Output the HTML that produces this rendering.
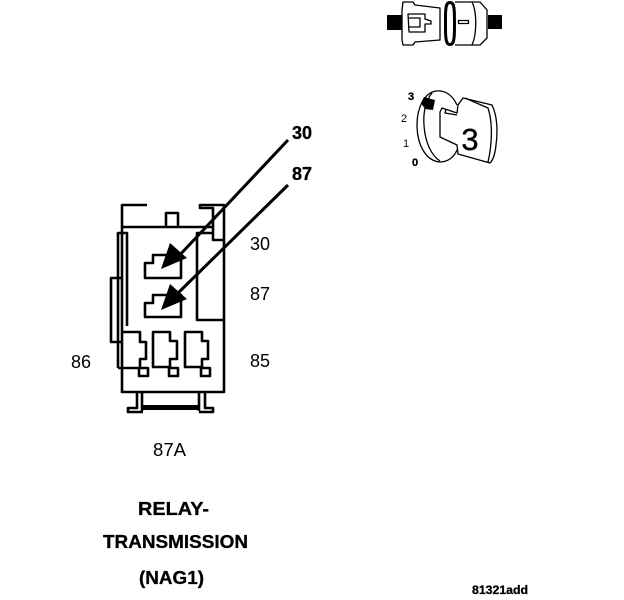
<!DOCTYPE html>
<html>
<head>
<meta charset="utf-8">
<style>
html,body{margin:0;padding:0;background:#fff;width:624px;height:600px;overflow:hidden}
svg{display:block}
text{font-family:"Liberation Sans",sans-serif;fill:#000}
.l{fill:none;stroke:#000;stroke-width:2.6;stroke-linejoin:round}
.t{fill:none;stroke:#000;stroke-width:1.3;stroke-linejoin:round}
.b{font-weight:bold;stroke:#000;stroke-width:.3}
</style>
</head>
<body>
<svg width="624" height="600" viewBox="0 0 624 600" xmlns="http://www.w3.org/2000/svg">
<rect width="624" height="600" fill="#fff"/>

<!-- Relay body -->
<path class="l" d="M147 205H122V392H224V205H200V208H213V240H223"/>
<path class="l" d="M122 227H212"/>
<path class="l" d="M166 227V213H178V227"/>
<path class="l" d="M118 368V233H127V326"/>
<path class="l" d="M121 278H111V342H122"/>
<path class="l" d="M212 233H197V320H223"/>

<!-- Slots -->
<path class="l" d="M145 278V263H153V255H181V278Z"/>
<path class="l" d="M145 317V303H153V295H181V317Z"/>

<!-- Lower terminals -->
<path class="l" d="M123 332H140V342H146V359H140V368M118 368H139"/>
<rect class="l" x="139" y="368" width="9" height="8"/>
<path class="l" d="M153 332H170V341H177V359H170V367H153Z"/>
<rect class="l" x="169" y="368" width="9" height="8"/>
<path class="l" d="M185 332H202V341H208V359H202V367H185Z"/>
<rect class="l" x="201" y="368" width="9" height="8"/>

<!-- Bottom legs -->
<path class="l" d="M137 392V408H128V412H143M142 392V411"/>
<path class="l" d="M199 392V411M205 392V408H213V412H199"/>
<rect x="143" y="405" width="56" height="5"/>

<!-- Arrows -->
<path class="l" stroke-width="3" style="stroke-width:3" d="M288 140L176 259"/>
<path d="M161 269L170 243L187 258Z"/>
<path class="l" style="stroke-width:3" d="M288 185L176 295"/>
<path d="M161 310L170 284L187 299Z"/>

<!-- Top connector -->
<rect x="387" y="15" width="15" height="15"/>
<rect x="488" y="15" width="14" height="14"/>
<path class="t" d="M402 10L403 2H413L415 5L440 8V40L415 42L413 45H403L402 40Z"/>
<path class="t" d="M408 14H425V19L431 21V24H425V32H409Z"/>
<path class="t" d="M409 18H420V27H409"/>
<path d="M450 1C444 1 444 8 444 23C444 38 444 46 450 46C456 46 456 38 456 23C456 8 456 1 450 1ZM450 4C453 4 453 12 453 23C453 34 453 43 450 43C447 43 447 34 447 23C447 12 447 4 450 4Z"/>
<path class="t" d="M455 2H480L487 10V38L480 45H455"/>
<path class="t" d="M472 2C477 12 477 34 472 45"/>
<rect class="t" x="458.500" y="20.500" width="10" height="3"/>

<!-- Key switch -->
<path class="t" d="M457 105C452 94 444 90 436 91C424 93 417 108 417 125C417 145 426 161 440 162C448 162 454 157 457 150"/>
<path class="t" d="M432 93C426 100 423 112 424 125C425 143 432 156 440 161"/>
<path class="t" d="M440 112L442 108L457 113L458 105L463 98L492 105C497 115 498 130 496 145C495 155 493 160 490 163L458 154L457 145L440 137Z"/>
<path class="t" d="M465 98L488 108C492 120 493 140 488 162"/>
<path class="t" d="M446 109L445 113L457 115"/>
<path d="M424 97L435 100L433 110L425 109L421 103Z"/>
<text x="411" y="100" font-size="11" class="b" text-anchor="middle">3</text>
<text x="404" y="122" font-size="11" text-anchor="middle">2</text>
<text x="406" y="147" font-size="11" text-anchor="middle">1</text>
<text x="415" y="166" font-size="11" class="b" text-anchor="middle">0</text>
<text x="470" y="150" font-size="31" text-anchor="middle" stroke="#000" stroke-width=".4">3</text>

<!-- Labels -->
<text x="292" y="139" font-size="18" class="b">30</text>
<text x="292" y="180" font-size="18" class="b">87</text>
<text x="250" y="250" font-size="18">30</text>
<text x="250" y="300" font-size="18">87</text>
<text x="71" y="368" font-size="18">86</text>
<text x="250" y="367" font-size="18">85</text>
<text x="153" y="456" font-size="18" textLength="33" lengthAdjust="spacingAndGlyphs">87A</text>
<text x="138" y="515" font-size="18" class="b" textLength="71" lengthAdjust="spacingAndGlyphs">RELAY-</text>
<text x="103" y="548" font-size="18" class="b" textLength="145" lengthAdjust="spacingAndGlyphs">TRANSMISSION</text>
<text x="139" y="584" font-size="18" class="b" textLength="65" lengthAdjust="spacingAndGlyphs">(NAG1)</text>
<text x="472" y="594" font-size="12" class="b" textLength="56" lengthAdjust="spacingAndGlyphs">81321add</text>
</svg>
</body>
</html>
